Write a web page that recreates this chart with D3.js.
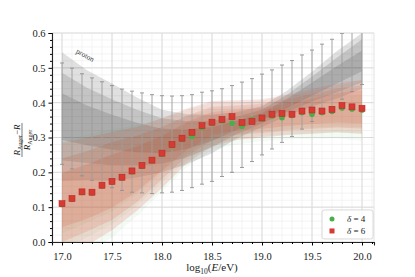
<!DOCTYPE html>
<html>
<head>
<meta charset="utf-8">
<script src="https://cdn.jsdelivr.net/npm/d3@7"></script>
<style>
  body { margin: 0; background: #fff; }
  svg text { font-family: "Liberation Serif", "DejaVu Serif", serif; fill: #222; }
</style>
</head>
<body>
<div id="chart"></div>
<script>
// energies of the points, log10(E/eV)
const energies = [17.0, 17.1, 17.2, 17.3, 17.4, 17.5, 17.6, 17.7, 17.8, 17.9,
  18.0, 18.1, 18.2, 18.3, 18.4, 18.5, 18.6, 18.7, 18.8, 18.9,
  19.0, 19.1, 19.2, 19.3, 19.4, 19.5, 19.6, 19.7, 19.8, 19.9, 20.0];

// gray error bars (low / high)
const barLow = [0.223, 0.210, 0.190, 0.177, 0.166, 0.156, 0.148, 0.143, 0.141, 0.139,
  0.141, 0.143, 0.148, 0.156, 0.166, 0.174, 0.188, 0.200, 0.214, 0.231,
  0.250, 0.267, 0.286, 0.303, 0.324, 0.346, 0.368, 0.388, 0.410, 0.432, 0.452];
const barHigh = [0.514, 0.499, 0.483, 0.471, 0.460, 0.449, 0.439, 0.433, 0.428, 0.423,
  0.420, 0.419, 0.420, 0.423, 0.430, 0.434, 0.440, 0.449, 0.459, 0.469,
  0.482, 0.494, 0.508, 0.521, 0.537, 0.551, 0.568, 0.582, 0.599, 0.620, 0.640];

// markers
const delta6 = [0.110, 0.125, 0.144, 0.143, 0.163, 0.174, 0.186, 0.204, 0.220, 0.235,
  0.255, 0.280, 0.298, 0.315, 0.334, 0.344, 0.352, 0.360, 0.343, 0.346,
  0.356, 0.367, 0.369, 0.367, 0.376, 0.379, 0.376, 0.381, 0.392, 0.388, 0.384];
const delta4 = [0.108, 0.123, 0.142, 0.141, 0.161, 0.172, 0.184, 0.202, 0.218, 0.233,
  0.252, 0.276, 0.294, 0.303, 0.329, 0.340, 0.348, 0.341, 0.332, 0.351,
  0.353, 0.362, 0.357, 0.363, 0.372, 0.367, 0.372, 0.375, 0.385, 0.382, 0.379];

// bands: centre and half widths (inner, middle, outer)
const bandE = [17.0, 17.25, 17.5, 17.75, 18.0, 18.25, 18.5, 18.75, 19.0, 19.25, 19.5, 19.75, 20.0];

const protonMid = [0.36, 0.335, 0.315, 0.30, 0.29, 0.295, 0.31, 0.335, 0.36, 0.398, 0.439, 0.48, 0.52];
const protonHw1 = [0.067, 0.057, 0.05, 0.042, 0.035, 0.028, 0.02, 0.013, 0.01, 0.013, 0.019, 0.025, 0.03];
const protonHw2 = [0.126, 0.108, 0.095, 0.08, 0.065, 0.052, 0.038, 0.025, 0.02, 0.025, 0.036, 0.05, 0.062];
const protonHw3 = [0.185, 0.158, 0.14, 0.115, 0.09, 0.072, 0.055, 0.038, 0.03, 0.036, 0.05, 0.068, 0.08];

const redMid = [0.12, 0.145, 0.175, 0.21, 0.255, 0.305, 0.34, 0.35, 0.355, 0.365, 0.375, 0.385, 0.388];
const redHw1 = [0.078, 0.078, 0.077, 0.065, 0.05, 0.04, 0.033, 0.03, 0.03, 0.032, 0.036, 0.042, 0.048];
const redHw2 = [0.12, 0.115, 0.112, 0.095, 0.075, 0.058, 0.048, 0.042, 0.042, 0.045, 0.05, 0.056, 0.062];
const redHw3 = [0.165, 0.155, 0.141, 0.12, 0.1, 0.078, 0.065, 0.057, 0.055, 0.058, 0.064, 0.07, 0.077];

const greenMid = [0.11, 0.138, 0.168, 0.205, 0.25, 0.298, 0.332, 0.34, 0.348, 0.356, 0.365, 0.374, 0.376];
const greenHw1 = [0.085, 0.083, 0.08, 0.068, 0.052, 0.042, 0.034, 0.03, 0.03, 0.032, 0.036, 0.042, 0.046];
const greenHw2 = [0.13, 0.125, 0.118, 0.1, 0.08, 0.062, 0.05, 0.044, 0.044, 0.048, 0.054, 0.06, 0.066];
const greenHw3 = [0.18, 0.17, 0.155, 0.13, 0.105, 0.082, 0.068, 0.06, 0.058, 0.062, 0.068, 0.076, 0.085];

const xTicks = [17.0, 17.5, 18.0, 18.5, 19.0, 19.5, 20.0];
const yTicks = [0.0, 0.1, 0.2, 0.3, 0.4, 0.5, 0.6];

// canvas
const W = 415, H = 277;
const margin = { top: 33, right: 41, bottom: 35, left: 52 };
const width = W - margin.left - margin.right,
  height = H - margin.top - margin.bottom;
const serif = "'Liberation Serif', serif";

const svg = d3.select("#chart").append("svg")
  .attr("width", W)
  .attr("height", H);

const g = svg.append("g")
  .attr("transform", `translate(${margin.left},${margin.top})`);

const x = d3.scaleLinear().domain([16.9, 20.12]).range([0, width]);
const y = d3.scaleLinear().domain([0, 0.6]).range([height, 0]);

g.append("clipPath").attr("id", "clip")
  .append("rect").attr("width", width).attr("height", height);

// grid
const minorX = d3.range(169, 202).map(v => v / 10);
const minorY = d3.range(0, 31).map(v => v / 50);
g.append("g").selectAll("line").data(minorX).enter().append("line")
  .attr("x1", d => x(d)).attr("x2", d => x(d))
  .attr("y1", 0).attr("y2", height)
  .attr("stroke", "#efefef").attr("stroke-width", 0.7);
g.append("g").selectAll("line").data(minorY).enter().append("line")
  .attr("y1", d => y(d)).attr("y2", d => y(d))
  .attr("x1", 0).attr("x2", width)
  .attr("stroke", "#efefef").attr("stroke-width", 0.7);
g.append("g").selectAll("line").data(xTicks).enter().append("line")
  .attr("x1", d => x(d)).attr("x2", d => x(d))
  .attr("y1", 0).attr("y2", height)
  .attr("stroke", "#d8d8d8").attr("stroke-width", 0.9);
g.append("g").selectAll("line").data(yTicks).enter().append("line")
  .attr("y1", d => y(d)).attr("y2", d => y(d))
  .attr("x1", 0).attr("x2", width)
  .attr("stroke", "#d8d8d8").attr("stroke-width", 0.9);
g.append("line").attr("x1", width).attr("x2", width).attr("y1", 0).attr("y2", height)
  .attr("stroke", "#e2e2e2");

const plot = g.append("g").attr("clip-path", "url(#clip)");

// bands
function drawBand(mid, hw, color, opacity) {
  const rows = bandE.map((e, i) => ({ e: e, lo: mid[i] - hw[i], hi: mid[i] + hw[i] }));
  const area = d3.area()
    .x(d => x(d.e))
    .y0(d => y(d.lo))
    .y1(d => y(d.hi));
  plot.append("path")
    .datum(rows)
    .attr("d", area)
    .attr("fill", color)
    .attr("fill-opacity", opacity);
}
[protonHw3, protonHw2, protonHw1].forEach(hw => drawBand(protonMid, hw, "#000", 0.12));
[greenHw3, greenHw2, greenHw1].forEach(hw => drawBand(greenMid, hw, "#3aa83a", 0.055));
[redHw3, redHw2, redHw1].forEach(hw => drawBand(redMid, hw, "#e0402c", 0.15));

// error bars
const bars = plot.append("g");
energies.forEach((e, i) => {
  bars.append("line")
    .attr("x1", x(e)).attr("x2", x(e))
    .attr("y1", y(barLow[i])).attr("y2", y(barHigh[i]))
    .attr("stroke", "#a0a0a0").attr("stroke-width", 0.9);
  [barLow[i], barHigh[i]].forEach(v => {
    bars.append("line")
      .attr("x1", x(e) - 2).attr("x2", x(e) + 2)
      .attr("y1", y(v)).attr("y2", y(v))
      .attr("stroke", "#909090").attr("stroke-width", 0.9);
  });
});

// markers
plot.append("g").selectAll("circle").data(delta4).enter().append("circle")
  .attr("cx", (d, i) => x(energies[i]))
  .attr("cy", d => y(d))
  .attr("r", 2.8)
  .attr("fill", "#4aae4a");
plot.append("g").selectAll("rect").data(delta6).enter().append("rect")
  .attr("x", (d, i) => x(energies[i]) - 3)
  .attr("y", d => y(d) - 3)
  .attr("width", 6).attr("height", 6)
  .attr("fill", "#d63a32")
  .attr("stroke", "#bb2c26").attr("stroke-width", 0.6);

// proton label
g.append("text")
  .attr("transform", `translate(${x(17.22)},${y(0.53)}) rotate(29)`)
  .attr("text-anchor", "middle")
  .style("font-family", serif)
  .style("font-size", "7.5px")
  .style("fill", "#444")
  .text("proton");

// axes
const xAxis = g.append("g").attr("transform", `translate(0,${height})`)
  .call(d3.axisBottom(x).tickValues(xTicks).tickFormat(d3.format(".1f")).tickSize(3.5));
g.append("g").attr("transform", `translate(0,${height})`)
  .call(d3.axisBottom(x).tickValues(minorX.filter(v => Math.round(v * 10) % 5 !== 0)).tickFormat("").tickSize(2))
  .select(".domain").remove();
const yAxis = g.append("g")
  .call(d3.axisLeft(y).tickValues(yTicks).tickFormat(d3.format(".1f")).tickSize(3.5));
g.append("g")
  .call(d3.axisLeft(y).tickValues(minorY.filter(v => Math.round(v * 50) % 5 !== 0)).tickFormat("").tickSize(2))
  .select(".domain").remove();

g.selectAll(".tick text").style("font-size", "10.5px").style("font-family", serif).attr("fill", "#333");
g.selectAll(".domain").attr("stroke", "#222").attr("stroke-width", 1.1);
xAxis.selectAll(".tick text").attr("dy", "1.05em");

// x label
const xl = svg.append("text")
  .attr("x", margin.left + x(18.5))
  .attr("y", 271)
  .attr("text-anchor", "middle")
  .style("font-family", serif)
  .style("font-size", "11px");
xl.append("tspan").text("log");
xl.append("tspan").attr("dy", 3).style("font-size", "7.5px").text("10");
xl.append("tspan").attr("dy", -3).text("(");
xl.append("tspan").style("font-style", "italic").text("E");
xl.append("tspan").text("/eV)");

// y label as a fraction
const yl = svg.append("g").attr("transform", "translate(22,140) rotate(-90)")
  .style("font-family", serif);
const num = yl.append("text").attr("x", 0).attr("y", -2.5)
  .attr("text-anchor", "middle").style("font-size", "9px");
num.append("tspan").style("font-style", "italic").text("R");
num.append("tspan").attr("dy", 2).style("font-size", "6px").text("Auger");
num.append("tspan").attr("dy", -2).text("−");
num.append("tspan").style("font-style", "italic").text("R");
yl.append("line").attr("x1", -17).attr("x2", 17).attr("y1", 0).attr("y2", 0)
  .attr("stroke", "#222").attr("stroke-width", 0.6);
const den = yl.append("text").attr("x", 0).attr("y", 7.5)
  .attr("text-anchor", "middle").style("font-size", "9px");
den.append("tspan").style("font-style", "italic").text("R");
den.append("tspan").attr("dy", 2).style("font-size", "6px").text("Auger");

// legend
const legend = g.append("g").attr("transform", `translate(${x(19.6)},${y(0.092)})`);
legend.append("rect")
  .attr("width", 51).attr("height", 29).attr("rx", 2.5)
  .attr("fill", "#fff").attr("fill-opacity", 0.85)
  .attr("stroke", "#d0d0d0").attr("stroke-width", 0.8);
const keys = [{ label: "4", color: "#4aae4a", shape: "circle" }, { label: "6", color: "#d63a32", shape: "square" }];
const items = legend.selectAll(".legend-item").data(keys).enter().append("g")
  .attr("class", "legend-item")
  .attr("transform", (d, i) => `translate(0,${9 + i * 12})`);
items.filter(d => d.shape === "circle").append("circle")
  .attr("cx", 10).attr("cy", 0).attr("r", 2.5).attr("fill", d => d.color);
items.filter(d => d.shape === "square").append("rect")
  .attr("x", 7.5).attr("y", -2.5).attr("width", 5).attr("height", 5).attr("fill", d => d.color);
const lt = items.append("text").attr("x", 25).attr("y", 3)
  .style("font-family", serif).style("font-size", "9px");
lt.append("tspan").style("font-style", "italic").text("δ");
lt.append("tspan").text(d => " = " + d.label);
</script>
</body>
</html>
